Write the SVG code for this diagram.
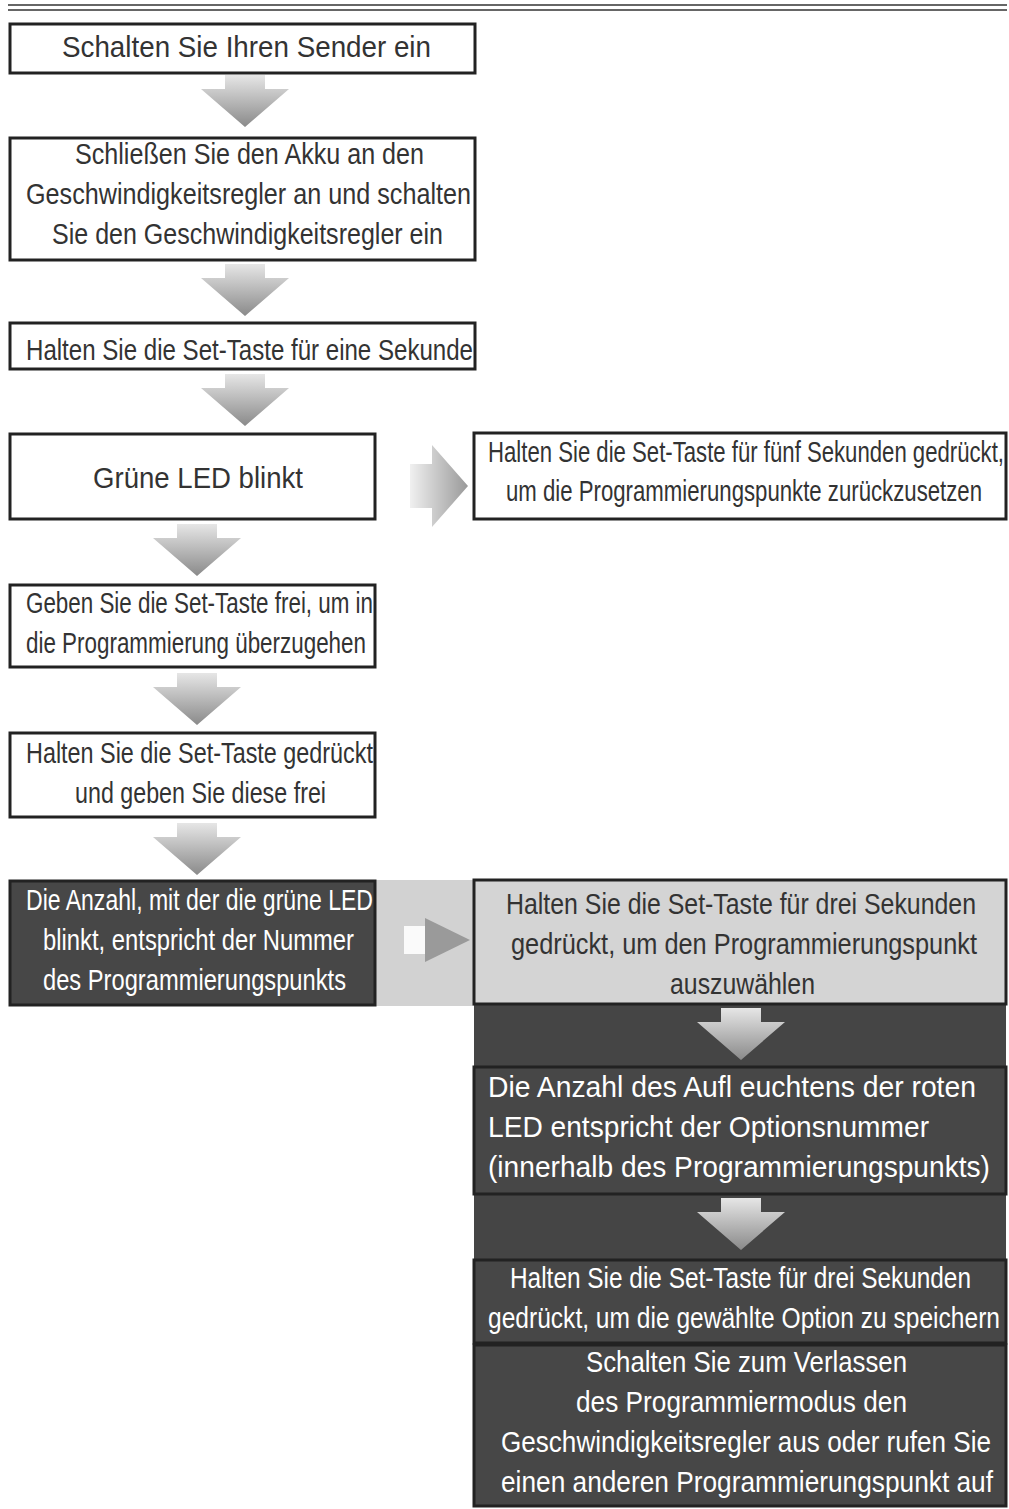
<svg xmlns="http://www.w3.org/2000/svg" width="1009" height="1509" viewBox="0 0 1009 1509">
<style>
.b{fill:#fff;stroke:#222;stroke-width:3}
.d{fill:#474747;stroke:#222;stroke-width:3}
.g{fill:#d4d4d4;stroke:#222;stroke-width:3}
text{font-family:"Liberation Sans",Arial,sans-serif;font-size:30px;fill:#333}
.w{fill:#fff}
</style>
<defs>
<linearGradient id="ga" x1="0" y1="0" x2="0" y2="1"><stop offset="0" stop-color="#e6e6e6"/><stop offset="1" stop-color="#8a8a8a"/></linearGradient>
<linearGradient id="gr" x1="0" y1="0" x2="1" y2="0"><stop offset="0" stop-color="#f0f0f0"/><stop offset="1" stop-color="#999"/></linearGradient>
<path id="dn" d="M-20,0 H20 V14 H44 L0,52 L-44,14 H-20 Z" fill="url(#ga)"/>
</defs>
<rect x="0" y="0" width="1009" height="1509" fill="#fff"/>
<line x1="8" y1="5" x2="1007" y2="5" stroke="#666" stroke-width="2"/>
<line x1="8" y1="10" x2="1007" y2="10" stroke="#666" stroke-width="2"/>
<g id="bg">
<rect x="375" y="880" width="100" height="126" fill="#d2d2d2"/>
<rect x="474" y="1005" width="532" height="502" fill="#454545"/>
</g>
<g id="connectors">
<use href="#dn" x="245" y="75"/>
<use href="#dn" x="245" y="264"/>
<use href="#dn" x="245" y="374"/>
<use href="#dn" x="197" y="524"/>
<use href="#dn" x="197" y="673"/>
<use href="#dn" x="197" y="823"/>
<use href="#dn" x="741" y="1008"/>
<use href="#dn" x="741" y="1198"/>
<path d="M410,464 H432 V445 L468,486 L432,527 V508 H410 Z" fill="url(#gr)"/>
<path d="M425,918 L470,940 L425,962 Z" fill="#9a9a9a"/>
<rect x="404" y="926" width="21" height="28" fill="#fafafa"/>
</g>
<g id="n1"><rect class="b" x="10" y="24" width="465" height="49"/><text x="62" y="57" textLength="369" lengthAdjust="spacingAndGlyphs">Schalten Sie Ihren Sender ein</text></g>
<g id="n2"><rect class="b" x="10" y="138" width="465" height="122"/>
<text x="75" y="164" textLength="349" lengthAdjust="spacingAndGlyphs">Schließen Sie den Akku an den</text>
<text x="26" y="204" textLength="445" lengthAdjust="spacingAndGlyphs">Geschwindigkeitsregler an und schalten</text>
<text x="52" y="244" textLength="391" lengthAdjust="spacingAndGlyphs">Sie den Geschwindigkeitsregler ein</text></g>
<g id="n3"><rect class="b" x="10" y="323" width="465" height="46"/><text x="26" y="360" textLength="447" lengthAdjust="spacingAndGlyphs">Halten Sie die Set-Taste für eine Sekunde</text></g>
<g id="n4"><rect class="b" x="10" y="434" width="365" height="85"/><text x="93" y="488" textLength="210" lengthAdjust="spacingAndGlyphs">Grüne LED blinkt</text></g>
<g id="n5"><rect class="b" x="474" y="433" width="532" height="86"/>
<text x="488" y="462" textLength="516" lengthAdjust="spacingAndGlyphs">Halten Sie die Set-Taste für fünf Sekunden gedrückt,</text>
<text x="506" y="501" textLength="476" lengthAdjust="spacingAndGlyphs">um die Programmierungspunkte zurückzusetzen</text></g>
<g id="n6"><rect class="b" x="10" y="585" width="365" height="82"/>
<text x="26" y="613" textLength="347" lengthAdjust="spacingAndGlyphs">Geben Sie die Set-Taste frei, um in</text>
<text x="26" y="653" textLength="340" lengthAdjust="spacingAndGlyphs">die Programmierung überzugehen</text></g>
<g id="n7"><rect class="b" x="10" y="733" width="365" height="84"/>
<text x="26" y="763" textLength="347" lengthAdjust="spacingAndGlyphs">Halten Sie die Set-Taste gedrückt</text>
<text x="75" y="803" textLength="251" lengthAdjust="spacingAndGlyphs">und geben Sie diese frei</text></g>
<g id="n8"><rect class="d" x="10" y="881" width="365" height="124"/>
<text class="w" x="26" y="910" textLength="347" lengthAdjust="spacingAndGlyphs">Die Anzahl, mit der die grüne LED</text>
<text class="w" x="43" y="950" textLength="311" lengthAdjust="spacingAndGlyphs">blinkt, entspricht der Nummer</text>
<text class="w" x="43" y="990" textLength="303" lengthAdjust="spacingAndGlyphs">des Programmierungspunkts</text></g>
<g id="n9"><rect class="g" x="474" y="880" width="532" height="124"/>
<text x="506" y="914" textLength="470" lengthAdjust="spacingAndGlyphs">Halten Sie die Set-Taste für drei Sekunden</text>
<text x="511" y="954" textLength="466" lengthAdjust="spacingAndGlyphs">gedrückt, um den Programmierungspunkt</text>
<text x="670" y="994" textLength="145" lengthAdjust="spacingAndGlyphs">auszuwählen</text></g>
<g id="n10"><rect class="d" x="474" y="1067" width="532" height="127"/>
<text class="w" x="488" y="1097" textLength="488" lengthAdjust="spacingAndGlyphs">Die Anzahl des Aufl euchtens der roten</text>
<text class="w" x="488" y="1137" textLength="441" lengthAdjust="spacingAndGlyphs">LED entspricht der Optionsnummer</text>
<text class="w" x="488" y="1177" textLength="502" lengthAdjust="spacingAndGlyphs">(innerhalb des Programmierungspunkts)</text></g>
<g id="n11"><rect class="d" x="474" y="1260" width="532" height="83"/>
<text class="w" x="510" y="1288" textLength="461" lengthAdjust="spacingAndGlyphs">Halten Sie die Set-Taste für drei Sekunden</text>
<text class="w" x="488" y="1328" textLength="512" lengthAdjust="spacingAndGlyphs">gedrückt, um die gewählte Option zu speichern</text></g>
<g id="n12"><rect class="d" x="474" y="1345" width="532" height="161"/>
<text class="w" x="586" y="1372" textLength="321" lengthAdjust="spacingAndGlyphs">Schalten Sie zum Verlassen</text>
<text class="w" x="576" y="1412" textLength="331" lengthAdjust="spacingAndGlyphs">des Programmiermodus den</text>
<text class="w" x="501" y="1452" textLength="490" lengthAdjust="spacingAndGlyphs">Geschwindigkeitsregler aus oder rufen Sie</text>
<text class="w" x="501" y="1492" textLength="492" lengthAdjust="spacingAndGlyphs">einen anderen Programmierungspunkt auf</text></g>
</svg>
